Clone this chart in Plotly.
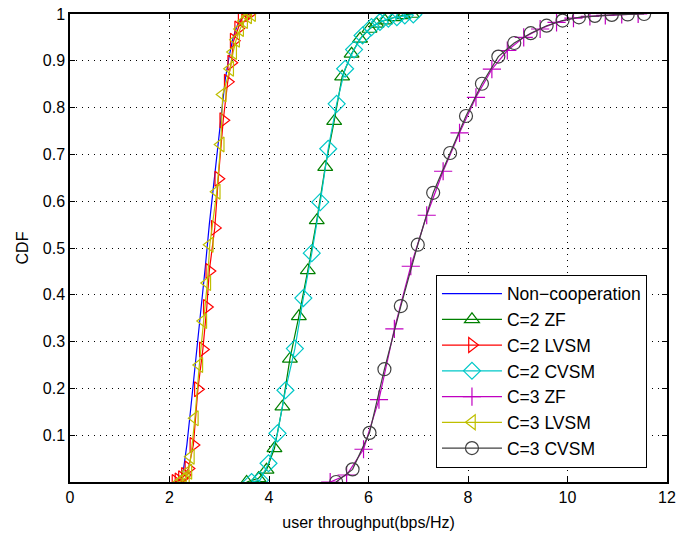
import plotly.graph_objects as go

# CDF curves (x = user throughput in bps/Hz, y = CDF)
noncoop_x = [2.10, 2.20, 2.28, 2.35, 2.42, 2.48, 2.56, 2.64, 2.72, 2.80,
             2.88, 2.96, 3.04, 3.12, 3.20, 3.28, 3.36, 3.44, 3.52, 3.60]
noncoop_y = [0.0, 0.003, 0.026, 0.08, 0.15, 0.21, 0.30, 0.38, 0.46, 0.55,
             0.63, 0.71, 0.79, 0.86, 0.91, 0.95, 0.975, 0.99, 0.997, 1.0]

c2_zf_x = [3.55, 3.79, 3.95, 4.11, 4.27, 4.42, 4.60, 4.78, 4.96, 5.13,
           5.31, 5.47, 5.66, 5.83, 6.02, 6.16, 6.33, 6.53, 6.70, 6.87]
c2_zf_y = [0.0, 0.008, 0.026, 0.072, 0.161, 0.263, 0.354, 0.452, 0.559, 0.673,
           0.771, 0.866, 0.915, 0.947, 0.968, 0.979, 0.986, 0.993, 0.997, 1.0]

c2_lvsm_x = [2.12, 2.18, 2.25, 2.31, 2.38, 2.48, 2.57, 2.67, 2.75, 2.80,
             2.91, 2.98, 3.08, 3.17, 3.24, 3.29, 3.38, 3.45, 3.52, 3.60]
c2_lvsm_y = [0.0, 0.003, 0.008, 0.015, 0.029, 0.079, 0.198, 0.283, 0.374, 0.451,
             0.543, 0.648, 0.773, 0.855, 0.896, 0.943, 0.969, 0.990, 0.997, 1.0]

c2_cvsm_x = [3.65, 3.82, 3.99, 4.17, 4.33, 4.52, 4.69, 4.86, 5.03, 5.19,
             5.36, 5.53, 5.71, 5.88, 6.06, 6.23, 6.40, 6.57, 6.73, 6.90]
c2_cvsm_y = [0.0, 0.004, 0.04, 0.104, 0.196, 0.285, 0.393, 0.489, 0.598, 0.712,
             0.808, 0.883, 0.924, 0.954, 0.972, 0.983, 0.990, 0.993, 0.997, 0.999]

c3_zf_x = [5.23, 5.56, 5.90, 6.21, 6.52, 6.85, 7.17, 7.50, 7.83, 8.16,
           8.48, 8.79, 9.12, 9.45, 9.78, 10.12, 10.45, 10.76, 11.09, 11.42]
c3_zf_y = [0.0, 0.015, 0.07, 0.176, 0.327, 0.461, 0.570, 0.664, 0.746, 0.822,
           0.882, 0.922, 0.950, 0.968, 0.982, 0.991, 0.995, 0.997, 0.999, 1.0]

c3_lvsm_x = [2.20, 2.27, 2.33, 2.38, 2.43, 2.51, 2.60, 2.68, 2.76, 2.81,
             2.95, 3.03, 3.07, 3.22, 3.28, 3.34, 3.42, 3.50, 3.58, 3.66]
c3_lvsm_y = [0.0, 0.004, 0.010, 0.022, 0.054, 0.136, 0.25, 0.344, 0.425, 0.507,
             0.620, 0.721, 0.828, 0.883, 0.919, 0.945, 0.968, 0.985, 0.995, 1.0]

c3_cvsm_x = [5.35, 5.68, 6.02, 6.32, 6.65, 6.99, 7.30, 7.64, 7.96, 8.28,
             8.61, 8.93, 9.26, 9.58, 9.90, 10.23, 10.55, 10.89, 11.21, 11.54]
c3_cvsm_y = [0.0, 0.027, 0.105, 0.241, 0.376, 0.507, 0.618, 0.703, 0.782, 0.851,
             0.909, 0.938, 0.959, 0.975, 0.986, 0.993, 0.996, 0.998, 0.999, 1.0]

x_ticks = [0, 2, 4, 6, 8, 10, 12]
y_ticks = [0.1, 0.2, 0.3, 0.4, 0.5, 0.6, 0.7, 0.8, 0.9, 1.0]
y_tick_labels = ["0.1", "0.2", "0.3", "0.4", "0.5", "0.6", "0.7", "0.8", "0.9", "1"]

series = [
    ("Non\u2212cooperation", noncoop_x, noncoop_y, "#0000ff", None),
    ("C=2 ZF", c2_zf_x, c2_zf_y, "#008000", "triangle-up-open"),
    ("C=2 LVSM", c2_lvsm_x, c2_lvsm_y, "#ff0000", "triangle-right-open"),
    ("C=2 CVSM", c2_cvsm_x, c2_cvsm_y, "#00c8c8", "diamond-open"),
    ("C=3 ZF", c3_zf_x, c3_zf_y, "#c000c0", "cross-thin-open"),
    ("C=3 LVSM", c3_lvsm_x, c3_lvsm_y, "#bfbf00", "triangle-left-open"),
    ("C=3 CVSM", c3_cvsm_x, c3_cvsm_y, "#404040", "circle-open"),
]

fig = go.Figure()
for name, xs, ys, color, symbol in series:
    if symbol is None:
        fig.add_trace(go.Scatter(x=xs, y=ys, name=name, mode="lines",
                                 line=dict(color=color, width=1.2)))
    else:
        fig.add_trace(go.Scatter(
            x=xs, y=ys, name=name, mode="lines+markers",
            line=dict(color=color, width=1.2),
            marker=dict(symbol=symbol, size=13, color=color,
                        line=dict(color=color, width=1.2)),
        ))

axis_common = dict(
    showline=True, linecolor="black", linewidth=1.5, mirror="ticks",
    ticks="inside", ticklen=5, tickcolor="black",
    showgrid=True, gridcolor="black", gridwidth=1, griddash="1px,5px",
    zeroline=False, tickfont=dict(size=16, color="black"), automargin=False,
    ticklabeloverflow="allow",
)

fig.update_xaxes(range=[0, 12], tickvals=x_ticks,
                 title=dict(text="user throughput(bps/Hz)", font=dict(size=16), standoff=12),
                 **axis_common)
fig.update_yaxes(range=[0, 1], tickvals=y_ticks, ticktext=y_tick_labels,
                 title=dict(text="CDF", font=dict(size=16), standoff=10),
                 **axis_common)

fig.update_layout(
    width=676, height=533,
    margin=dict(l=70, r=9, t=14, b=51),
    paper_bgcolor="white", plot_bgcolor="white",
    font=dict(family="Arial, Liberation Sans, sans-serif", color="black"),
    legend=dict(x=0.613, y=0.443, xanchor="left", yanchor="top",
                bgcolor="white", bordercolor="black", borderwidth=1,
                font=dict(size=17.5), itemwidth=60),
)

# drop the browser's default 8px page margin so the figure sits at 0,0
fig.write_html("out.html", config={"displayModeBar": False},
               post_script="document.body.style.margin = '0';")
